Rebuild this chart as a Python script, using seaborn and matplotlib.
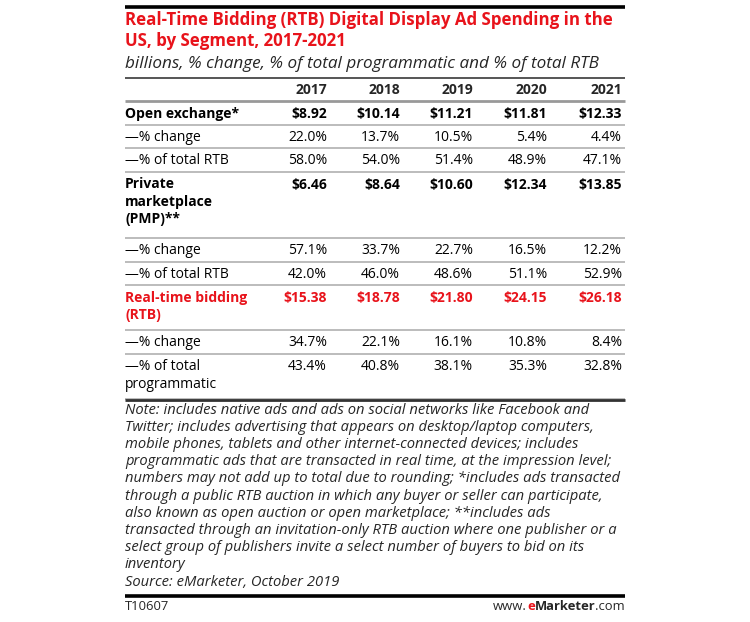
import matplotlib
matplotlib.use("Agg")
import matplotlib.pyplot as plt
import seaborn as sns

years = [2017, 2018, 2019, 2020, 2021]
open_exchange = [8.92, 10.14, 11.21, 11.81, 12.33]
open_change = [22.0, 13.7, 10.5, 5.4, 4.4]
open_share_rtb = [58.0, 54.0, 51.4, 48.9, 47.1]
pmp = [6.46, 8.64, 10.60, 12.34, 13.85]
pmp_change = [57.1, 33.7, 22.7, 16.5, 12.2]
pmp_share_rtb = [42.0, 46.0, 48.6, 51.1, 52.9]
rtb = [15.38, 18.78, 21.80, 24.15, 26.18]
rtb_change = [34.7, 22.1, 16.1, 10.8, 8.4]
rtb_share_prog = [43.4, 40.8, 38.1, 35.3, 32.8]

title = "Real-Time Bidding (RTB) Digital Display Ad Spending in the\nUS, by Segment, 2017-2021"
subtitle = "billions, % change, % of total programmatic and % of total RTB"
note_lines = [
    "Note: includes native ads and ads on social networks like Facebook and",
    "Twitter; includes advertising that appears on desktop/laptop computers,",
    "mobile phones, tablets and other internet-connected devices; includes",
    "programmatic ads that are transacted in real time, at the impression level;",
    "numbers may not add up to total due to rounding; *includes ads transacted",
    "through a public RTB auction in which any buyer or seller can participate,",
    "also known as open auction or open marketplace; **includes ads",
    "transacted through an invitation-only RTB auction where one publisher or a",
    "select group of publishers invite a select number of buyers to bid on its",
    "inventory",
    "Source: eMarketer, October 2019",
]

RED = "#e8131b"

rows = [
    ("Open exchange*", open_exchange, "money", "bold"),
    ("\u2014% change", open_change, "pct", "normal"),
    ("\u2014% of total RTB", open_share_rtb, "pct", "normal"),
    ("Private\nmarketplace\n(PMP)**", pmp, "money", "bold"),
    ("\u2014% change", pmp_change, "pct", "normal"),
    ("\u2014% of total RTB", pmp_share_rtb, "pct", "normal"),
    ("Real-time bidding\n(RTB)", rtb, "money", "red"),
    ("\u2014% change", rtb_change, "pct", "normal"),
    ("\u2014% of total\nprogrammatic", rtb_share_prog, "pct", "normal"),
]

sns.set_theme(style="white")
plt.rcParams["font.family"] = ["Open Sans", "DejaVu Sans"]

fig = plt.figure(figsize=(7.5, 6.22), dpi=100)
ax = fig.add_axes([0, 0, 1, 1])
ax.set_xlim(0, 750)
ax.set_ylim(622, 0)
ax.axis("off")

x0, x1 = 125, 625
col_right = [327, 400, 473, 547, 622]
body = 10
line_h = 17.5

ax.plot([x0, x1], [7, 7], color="black", lw=2.6, solid_capstyle="butt")
ax.text(x0, 11, title, color=RED, fontsize=12.2, fontweight="bold",
        va="top", ha="left", linespacing=1.25)
ax.text(x0, 64, subtitle, fontsize=12.3, style="italic", va="center", ha="left")
ax.plot([x0, x1], [78, 78], color="#555555", lw=1.4, solid_capstyle="butt")

# header
for xr, yr in zip(col_right, years):
    ax.text(xr, 89.5, str(yr), fontsize=body, fontweight="bold", ha="right", va="center")
ax.plot([x0, x1], [101, 101], color="#999999", lw=2.0, solid_capstyle="butt")

top = 101
for label, vals, kind, style in rows:
    n = label.count("\n") + 1
    height = 23.5 + (n - 1) * 21.5
    color = RED if style == "red" else "black"
    weight = "bold" if style in ("bold", "red") else "normal"
    for i, part in enumerate(label.split("\n")):
        ax.text(x0, top + 13 + i * line_h, part, fontsize=body, fontweight=weight,
                color=color, ha="left", va="center")
    for xr, v in zip(col_right, vals):
        s = f"${v:.2f}" if kind == "money" else f"{v:.1f}%"
        ax.text(xr, top + 13, s, fontsize=body, fontweight=weight, color=color,
                ha="right", va="center")
    top += height
    ax.plot([x0, x1], [top, top], color="#b0b0b0", lw=1.2, solid_capstyle="butt")

ax.plot([x0, x1], [400, 400], color="#333333", lw=2.0, solid_capstyle="butt")
for i, line in enumerate(note_lines):
    ax.text(x0, 410 + i * 17.2, line, fontsize=10.6, style="italic", va="center", ha="left")

ax.plot([x0, x1], [596, 596], color="black", lw=2.6, solid_capstyle="butt")
foot = 9.4
ax.text(x0, 607, "T10607", fontsize=foot, va="center", ha="left")
# footer brand: pieces placed from the right edge
r = fig.canvas.get_renderer()
t3 = ax.text(x1, 607, ".com", fontsize=foot, va="center", ha="right")
w3 = t3.get_window_extent(r).width
t2 = ax.text(x1 - w3, 607, "Marketer", fontsize=foot, fontweight="bold", va="center", ha="right")
w2 = t2.get_window_extent(r).width
t1 = ax.text(x1 - w3 - w2, 607, "e", fontsize=foot, fontweight="bold", color=RED, va="center", ha="right")
w1 = t1.get_window_extent(r).width
ax.text(x1 - w3 - w2 - w1, 607, "www.", fontsize=foot, va="center", ha="right")

fig.savefig("out.png", dpi=100)
